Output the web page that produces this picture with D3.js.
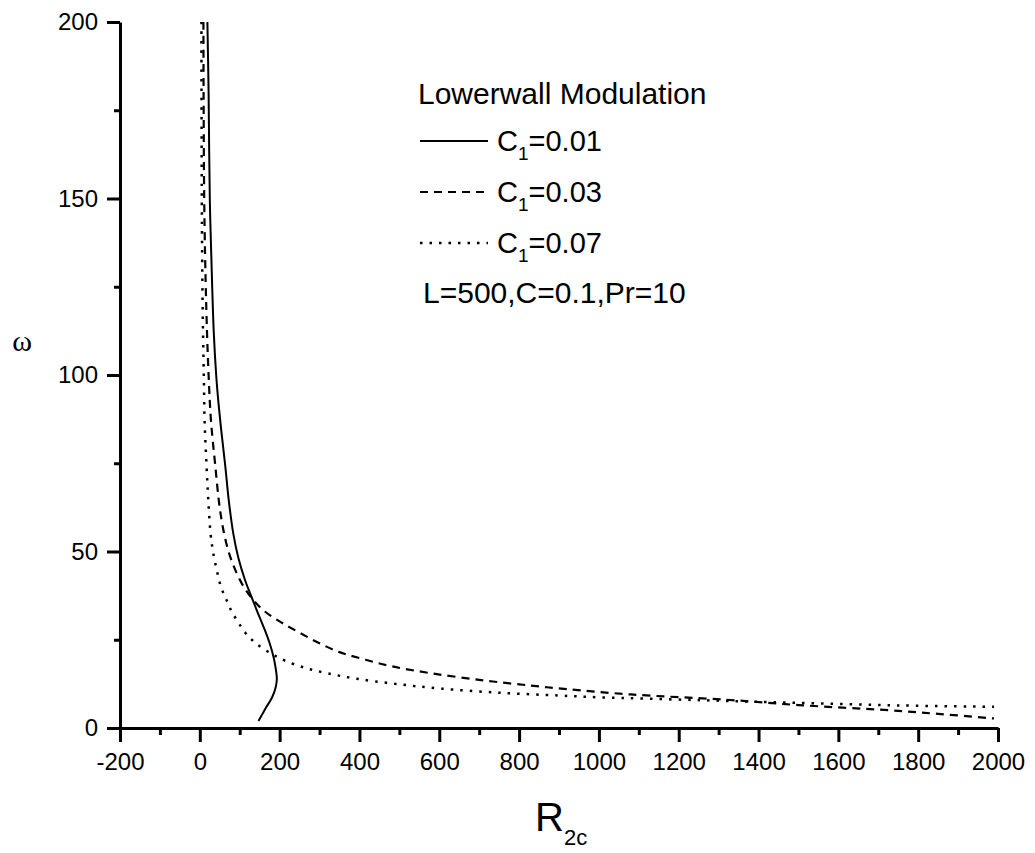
<!DOCTYPE html>
<html>
<head>
<meta charset="utf-8">
<script src="https://cdn.jsdelivr.net/npm/d3@7"></script>
<style>
  body { margin: 0; background: #fff; }
  text { font-family: "Liberation Sans", Arial, sans-serif; fill: #000; }
</style>
</head>
<body>
<div id="chart"></div>
<script>
// C1 = 0.01 (solid)
var omegaSolid = [200, 180, 150, 125, 112, 100, 93, 85, 74, 65, 55, 48, 42, 37, 33, 28, 24, 20, 17, 14, 12, 10, 8, 6, 4, 2];
var rSolid     = [19, 22, 25, 31, 35, 41, 46, 53, 64, 72, 84, 97, 113, 130, 144, 162, 175, 185, 190, 193, 191, 186, 178, 167, 157, 147];

// C1 = 0.03 (dashed)
var omegaDash = [200, 150, 120, 100, 87, 74, 65, 60, 55, 50, 45, 40, 36, 33, 30, 27, 24, 21.5, 19.5, 17.5, 15.5, 13.5, 12, 11, 9.5, 8, 6.5, 5, 4, 2.7];
var rDash     = [9, 11, 16, 22, 28, 39, 47, 53, 61, 72, 88, 110, 136, 163, 203, 250, 300, 350, 410, 480, 580, 710, 830, 920, 1080, 1320, 1500, 1730, 1850, 1990];

// C1 = 0.07 (dotted)
var omegaDot = [200, 150, 120, 100, 87, 74, 65, 55, 50, 45, 40, 36, 33, 30, 27, 24, 21, 19, 17, 15.5, 14, 12.5, 11.2, 10, 9.2, 8.7, 7.9, 7.1, 6.4, 6.0];
var rDot     = [4, 5, 7, 10, 12, 17, 21, 27, 33, 42, 53, 68, 80, 96, 114, 140, 180, 215, 265, 320, 390, 490, 600, 750, 900, 1000, 1250, 1500, 1750, 1990];

var seriesNames = ["0.01", "0.03", "0.07"];
var xTicks = [-200, 0, 200, 400, 600, 800, 1000, 1200, 1400, 1600, 1800, 2000];
var yTicks = [0, 50, 100, 150, 200];

var width = 1035, height = 853;

var svg = d3.select("#chart").append("svg")
	.attr("width", width).attr("height", height)
	.style("background", "#fff");

var x = d3.scaleLinear().domain([-200, 2000]).range([120, 998]);
var y = d3.scaleLinear().domain([0, 200]).range([728, 22]);

function zip(rs, ws) {
	return rs.map(function(r, i) { return [r, ws[i]]; });
}

var series = [
	{ pts: zip(rSolid, omegaSolid), dash: null, w: 2 },
	{ pts: zip(rDash, omegaDash), dash: "8,6", w: 2.2 },
	{ pts: zip(rDot, omegaDot), dash: "2.5,7", w: 2.5 }
];

var line = d3.line()
	.x(function(d) { return x(d[0]); })
	.y(function(d) { return y(d[1]); })
	.curve(d3.curveCatmullRom.alpha(0.5));

series.forEach(function(s) {
	svg.append("path").attr("d", line(s.pts))
		.attr("fill", "none").attr("stroke", "#000")
		.attr("stroke-width", s.w)
		.attr("stroke-dasharray", s.dash);
});

// minor ticks first, major on top
var xMinor = d3.range(-100, 2000, 200);
var yMinor = d3.range(25, 200, 50);

svg.append("g").attr("transform", "translate(0,728)")
	.call(d3.axisBottom(x).tickValues(xMinor).tickSize(7).tickFormat("").tickSizeOuter(0))
	.call(function(g) { g.select(".domain").remove(); });
svg.append("g").attr("transform", "translate(120,0)")
	.call(d3.axisLeft(y).tickValues(yMinor).tickSize(6).tickFormat("").tickSizeOuter(0))
	.call(function(g) { g.select(".domain").remove(); });

var fmt = function(d) { return String(d); }; // plain hyphen, no thousands comma

var xAxis = svg.append("g").attr("transform", "translate(0,728)")
	.call(d3.axisBottom(x).tickValues(xTicks).tickFormat(fmt).tickSize(14).tickPadding(11).tickSizeOuter(0));
var yAxis = svg.append("g").attr("transform", "translate(120,0)")
	.call(d3.axisLeft(y).tickValues(yTicks).tickFormat(fmt).tickSize(13).tickPadding(9).tickSizeOuter(0));

[xAxis, yAxis].forEach(function(g) {
	g.select(".domain").attr("stroke", "#000").attr("stroke-width", 3);
	g.selectAll("text").attr("font-size", "24px").attr("fill", "#000")
		.style("font-family", "'Liberation Sans', Arial, sans-serif");
});
svg.selectAll(".tick line").attr("stroke", "#000").attr("stroke-width", 3);

// axis titles
var xt = svg.append("text").attr("x", 535).attr("y", 831).attr("font-size", "40px");
xt.append("tspan").text("R");
xt.append("tspan").attr("font-size", "22px").attr("dy", 14).text("2c");

svg.append("text").attr("x", 22).attr("y", 351)
	.attr("text-anchor", "middle").attr("font-size", "30px")
	.style("font-family", "'Liberation Serif', 'Times New Roman', serif")
	.text("ω");

// legend
var legend = svg.append("g");
legend.append("text").attr("x", 418).attr("y", 104).attr("font-size", "30px")
	.text("Lowerwall Modulation");

seriesNames.forEach(function(name, i) {
	var ly = 141 + i * 51;
	legend.append("line").attr("x1", 420).attr("x2", 488)
		.attr("y1", ly).attr("y2", ly)
		.attr("stroke", "#000").attr("stroke-width", series[i].w)
		.attr("stroke-dasharray", series[i].dash);
	var t = legend.append("text").attr("x", 497).attr("y", ly + 10).attr("font-size", "29px");
	t.append("tspan").text("C");
	t.append("tspan").attr("font-size", "19px").attr("dy", 9).text("1");
	t.append("tspan").attr("dy", -9).text("=" + name);
});

legend.append("text").attr("x", 423).attr("y", 303).attr("font-size", "30px")
	.text("L=500,C=0.1,Pr=10");
</script>
</body>
</html>
